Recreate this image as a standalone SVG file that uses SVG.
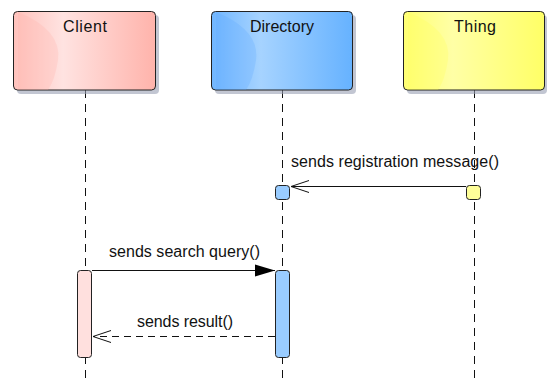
<svg xmlns="http://www.w3.org/2000/svg" width="547" height="383" viewBox="0 0 547 383">
<style>
text{font-family:"Liberation Sans",Arial,sans-serif;font-size:16px;fill:#111}
.box{stroke:#222;stroke-width:1}
.shadow{fill:#9aa0b4;opacity:0.6}
.life{stroke:#111;stroke-width:1;stroke-dasharray:8,6;fill:none}
.msg{stroke:#111;stroke-width:1;fill:none}
.dash{stroke-dasharray:7,5}
</style>
<defs>
<linearGradient id="gC" x1="0" x2="1" y1="0" y2="0"><stop offset="0" stop-color="#ffc2bc"/><stop offset="0.35" stop-color="#ffe3e1"/><stop offset="1" stop-color="#ffb3ab"/></linearGradient>
<linearGradient id="gD" x1="0" x2="1" y1="0" y2="0"><stop offset="0" stop-color="#70b6ff"/><stop offset="0.35" stop-color="#a6d3ff"/><stop offset="1" stop-color="#66b2ff"/></linearGradient>
<linearGradient id="gT" x1="0" x2="1" y1="0" y2="0"><stop offset="0" stop-color="#ffff72"/><stop offset="0.35" stop-color="#ffffa6"/><stop offset="1" stop-color="#ffff66"/></linearGradient>
<marker id="open" viewBox="0 0 20 14" refX="19" refY="7" markerWidth="20" markerHeight="14" markerUnits="userSpaceOnUse" orient="auto"><path d="M1,1 L19,7 L1,13" fill="none" stroke="#111" stroke-width="1"/></marker>
<marker id="filled" viewBox="0 0 20 14" refX="20" refY="7" markerWidth="20" markerHeight="14" markerUnits="userSpaceOnUse" orient="auto"><path d="M0,1 L20,7 L0,13 Z" fill="#000"/></marker>
</defs>

<g id="lifelines">
<line class="life" x1="85.5" y1="90" x2="85.5" y2="383"/>
<line class="life" x1="282.5" y1="90" x2="282.5" y2="383"/>
<line class="life" x1="474.5" y1="90" x2="474.5" y2="383"/>
</g>

<g id="client">
<rect class="shadow" x="17" y="15" width="142" height="79" rx="4"/>
<rect class="box" x="13.5" y="11.5" width="142" height="78.5" rx="4" fill="url(#gC)"/>
<path d="M18,12 Q62,30 58,60 Q55,80 48,90 L18,90 Z" fill="#ffb0a8" opacity="0.25"/>
<text x="63" y="32" textLength="44" lengthAdjust="spacing">Client</text>
</g>

<g id="directory">
<rect class="shadow" x="215" y="15" width="141" height="79" rx="4"/>
<rect class="box" x="211.5" y="11.5" width="141" height="78.5" rx="4" fill="url(#gD)"/>
<path d="M216,12 Q260,30 256,60 Q253,80 246,90 L216,90 Z" fill="#5aa8ff" opacity="0.25"/>
<text x="250" y="32" textLength="64" lengthAdjust="spacing">Directory</text>
</g>

<g id="thing">
<rect class="shadow" x="407" y="15" width="140" height="79" rx="4"/>
<rect class="box" x="403.5" y="11.5" width="141" height="78.5" rx="4" fill="url(#gT)"/>
<path d="M408,12 Q452,30 448,60 Q445,80 438,90 L408,90 Z" fill="#ffff55" opacity="0.25"/>
<text x="454" y="32" textLength="42" lengthAdjust="spacing">Thing</text>
</g>

<g id="activations">
<rect class="box" x="275.5" y="185.5" width="14" height="14" rx="3" fill="#99ccff"/>
<rect class="box" x="466.5" y="185.5" width="14" height="14" rx="3" fill="#ffff99"/>
<rect class="box" x="77.5" y="270.5" width="14" height="87" rx="3" fill="#ffe0de"/>
<rect class="box" x="275.5" y="270.5" width="14" height="87" rx="3" fill="#99ccff"/>
</g>

<g id="connectors">
<line class="msg" x1="466" y1="186.5" x2="291" y2="186.5" marker-end="url(#open)"/>
<text x="291" y="167" textLength="208" lengthAdjust="spacing">sends registration message()</text>
<line class="msg" x1="92" y1="270.5" x2="275" y2="270.5" marker-end="url(#filled)"/>
<text x="109" y="257" textLength="151" lengthAdjust="spacing">sends search query()</text>
<line class="msg dash" x1="275" y1="336.5" x2="93" y2="336.5" marker-end="url(#open)"/>
<text x="137" y="327" textLength="96" lengthAdjust="spacing">sends result()</text>
</g>
</svg>
